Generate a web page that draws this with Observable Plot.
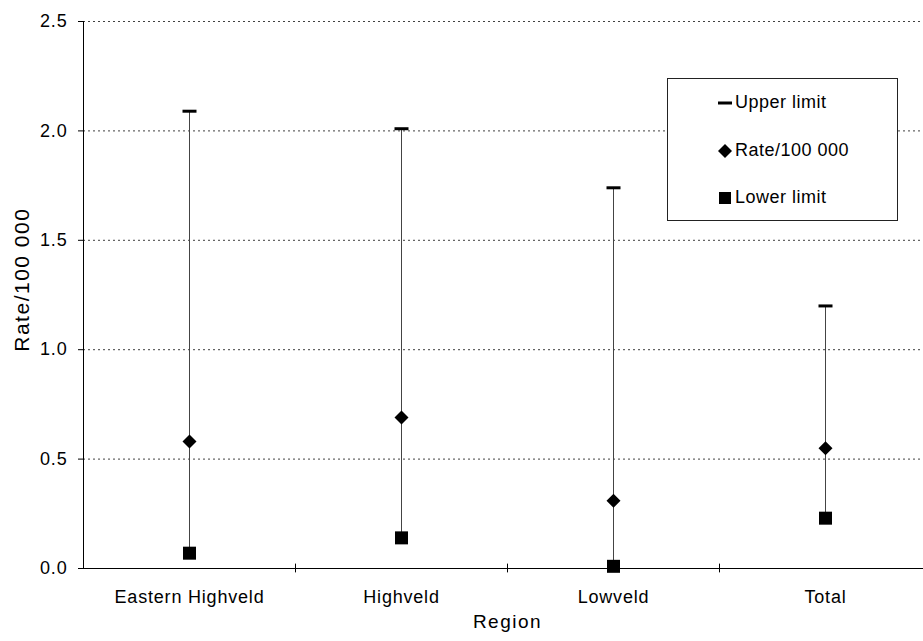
<!DOCTYPE html>
<html>
<head>
<meta charset="utf-8">
<script src="https://cdn.jsdelivr.net/npm/d3@7"></script>
<script src="https://cdn.jsdelivr.net/npm/@observablehq/plot@0.6"></script>
<style>
  html, body { margin: 0; padding: 0; background: #fff; overflow: hidden; }
  #wrap { position: relative; width: 923px; height: 641px; font-family: "Liberation Sans", Arial, sans-serif; }
  #wrap svg text { letter-spacing: 0.8px; }
  #wrap svg text.big { letter-spacing: 1.5px; }
  #legend { position: absolute; left: 667px; top: 78px; width: 231px; height: 143px; border: 1px solid #222; background: #fff; box-sizing: border-box; font-size: 18px; letter-spacing: 0.5px; color: #000; }
  #legend .item { position: absolute; left: 50px; display: flex; align-items: center; white-space: nowrap; }
  #legend svg { margin-right: 3px; }
</style>
</head>
<body>
<div id="wrap"></div>
<script>
// ---- data ----
const regions = ["Eastern Highveld", "Highveld", "Lowveld", "Total"];
const upperLimit = [2.09, 2.01, 1.74, 1.20];
const rate = [0.58, 0.69, 0.31, 0.55];
const lowerLimit = [0.07, 0.14, 0.01, 0.23];
const yTicks = [0, 0.5, 1.0, 1.5, 2.0, 2.5];
const legendLabels = ["Upper limit", "Rate/100 000", "Lower limit"];

const rows = regions.map((r, i) => ({i, region: r, upper: upperLimit[i], rate: rate[i], lower: lowerLimit[i]}));
const boundaries = d3.range(1, regions.length).map(i => i - 0.5);

const dashSym = {draw(ctx) { ctx.rect(-7, -1.5, 14, 3); }};
const diamondSym = {draw(ctx) { ctx.moveTo(0, -7); ctx.lineTo(7, 0); ctx.lineTo(0, 7); ctx.lineTo(-7, 0); ctx.closePath(); }};
const squareSym = {draw(ctx) { ctx.rect(-6.5, -6.5, 13, 13); }};

const chart = Plot.plot({
  width: 923,
  height: 641,
  marginTop: 21,
  marginBottom: 73,
  marginLeft: 83,
  marginRight: 0,
  style: {fontFamily: "'Liberation Sans', Arial, sans-serif", fontSize: "18px", color: "#000", background: "#fff"},
  x: {domain: [-0.5, regions.length - 0.5], range: [83, 931]},
  y: {domain: [0, 2.5], range: [568, 21]},
  marks: [
    Plot.gridY(yTicks.slice(1), {stroke: "#000", strokeOpacity: 0.75, strokeDasharray: "2,3", strokeWidth: 1}),
    Plot.ruleY([0], {stroke: "#000", strokeWidth: 1}),
    Plot.ruleX([-0.5], {stroke: "#000", strokeWidth: 1}),
    Plot.ruleX(boundaries, {y1: -0.02, y2: 0.02, stroke: "#000", strokeWidth: 1}),
    Plot.axisY({ticks: yTicks, tickFormat: d3.format(".1f"), tickSize: 5, tickPadding: 11, label: null, fontSize: 18}),
    Plot.axisX({ticks: d3.range(regions.length), tickFormat: i => regions[i], tickSize: 0, tickPadding: 22, label: null, fontSize: 18}),
    Plot.ruleX(rows, {x: "i", y1: "lower", y2: "upper", stroke: "#444", strokeWidth: 1}),
    Plot.dot(rows, {x: "i", y: "upper", symbol: dashSym, fill: "#000", stroke: null, r: 4}),
    Plot.dot(rows, {x: "i", y: "rate", symbol: diamondSym, fill: "#000", stroke: null, r: 4}),
    Plot.dot(rows, {x: "i", y: "lower", symbol: squareSym, fill: "#000", stroke: null, r: 4}),
    Plot.text(["Region"], {x: (regions.length - 1) / 2, y: 0, dy: 59, text: d => d, fontSize: 19, lineAnchor: "bottom", className: "big"}),
    Plot.text(["Rate/100 000"], {x: -0.5, y: 1.32, dx: -61, rotate: -90, text: d => d, fontSize: 21, lineAnchor: "middle", className: "big"})
  ]
});

const wrap = document.getElementById("wrap");
wrap.appendChild(chart);
chart.querySelectorAll("g.big text, text.big").forEach(t => t.classList.add("big"));

// legend
const legend = document.createElement("div");
legend.id = "legend";
const symSvgs = [
  '<svg width="14" height="14"><rect x="0" y="5.5" width="14" height="3" fill="#000"/></svg>',
  '<svg width="14" height="14"><path d="M7,0L14,7L7,14L0,7Z" fill="#000"/></svg>',
  '<svg width="14" height="14"><rect x="1" y="1" width="12" height="12" fill="#000"/></svg>'
];
const tops = [13, 61, 108];
legendLabels.forEach((lab, k) => {
  const it = document.createElement("div");
  it.className = "item";
  it.style.top = tops[k] + "px";
  it.innerHTML = symSvgs[k] + "<span>" + lab + "</span>";
  legend.appendChild(it);
});
wrap.appendChild(legend);
</script>
</body>
</html>
